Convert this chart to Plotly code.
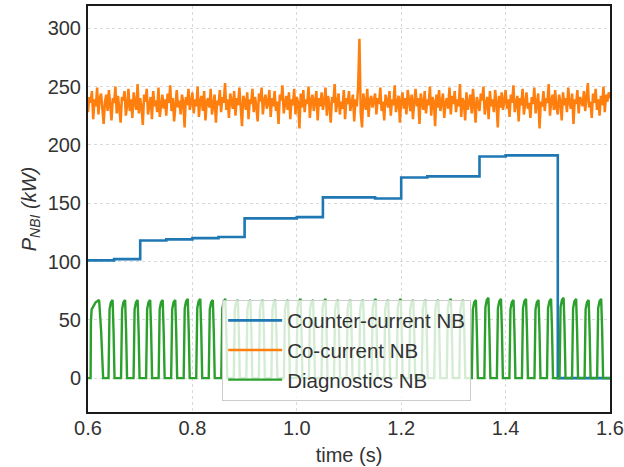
import plotly.graph_objects as go

# ---------------- data ----------------
# Counter-current NB (stepped power, kW)
blue_t = [0.600, 0.650, 0.700, 0.750, 0.800, 0.850, 0.900, 0.950, 1.000, 1.050,
          1.100, 1.150, 1.200, 1.250, 1.300, 1.350, 1.400, 1.450, 1.500, 1.600]
blue_v = [101, 102, 118, 119, 120, 121, 137, 137, 138, 155,
          155, 154, 172, 173, 173, 190, 191, 191, 0, 0]

# Co-current NB (noisy, sampled every 2.5 ms from 0.6 s)
orange_t0 = 0.6
orange_dt = 0.0025
orange_v = [
    228, 241, 236, 246, 222, 239, 233, 249, 226, 240, 244, 231, 218, 237, 243, 229, 247, 234, 221, 240,
    236, 250, 227, 242, 233, 219, 241, 238, 246, 225, 234, 248, 229, 239, 223, 245, 236, 230, 252, 227,
    240, 232, 217, 243, 237, 248, 226, 235, 241, 222, 246, 233, 238, 228, 249, 224, 237, 243, 231, 239,
    225, 244, 236, 251, 229, 240, 220, 235, 247, 232, 238, 226, 243, 237, 215, 241, 234, 248, 230, 236,
    245, 227, 239, 233, 250, 224, 238, 242, 229, 246, 221, 237, 240, 232, 248, 226, 235, 243, 219, 238,
    234, 247, 228, 241, 236, 253, 230, 239, 223, 244, 237, 231, 246, 225, 240, 234, 249, 227, 216, 242,
    238, 230, 245, 222, 239, 235, 248, 228, 241, 233, 220, 244, 237, 249, 226, 238, 243, 231, 236, 247,
    224, 240, 233, 246, 229, 237, 218, 243, 238, 251, 227, 235, 242, 230, 245, 222, 239, 234, 248, 226,
    241, 236, 214, 244, 232, 247, 228, 239, 235, 250, 223, 238, 243, 229, 236, 246, 221, 240, 233, 245,
    230, 237, 249, 225, 242, 234, 219, 241, 236, 252, 228, 239, 244, 226, 237, 231, 247, 222, 240, 235,
    246, 229, 238, 243, 220, 239, 233, 250, 291, 227, 215, 244, 236, 230, 248, 224, 238, 242, 232, 237,
    244, 226, 240, 235, 249, 229, 237, 221, 243, 238, 232, 246, 225, 239, 234, 251, 228, 236, 242, 219,
    238, 245, 231, 240, 226, 247, 235, 229, 243, 222, 237, 248, 233, 240, 218, 244, 236, 230, 246, 227,
    239, 234, 250, 225, 241, 237, 216, 243, 232, 247, 229, 238, 244, 223, 236, 240, 231, 249, 226, 242,
    235, 246, 228, 239, 233, 252, 224, 240, 237, 221, 245, 230, 238, 243, 227, 248, 234, 219, 241, 236,
    229, 244, 238, 250, 226, 235, 241, 222, 246, 233, 239, 228, 247, 236, 215, 242, 232, 245, 230, 238,
    247, 231, 239, 224, 243, 236, 251, 228, 237, 242, 220, 240, 234, 248, 226, 239, 245, 231, 236, 223,
    241, 235, 249, 227, 238, 244, 214, 237, 233, 246, 229, 240, 236, 252, 225, 238, 243, 230, 247, 232,
    226, 243, 237, 221, 245, 234, 240, 228, 249, 236, 231, 244, 218, 239, 235, 247, 227, 241, 238, 233,
    246, 229, 240, 253, 232, 237, 223, 244, 236, 248, 230, 239, 225, 242, 234, 250, 228, 243, 237, 245,
    240,
]

# Diagnostics NB (pulsed): onset time, on-duration and peak of each pulse
green_on = [0.6050, 0.6393, 0.6633, 0.6873, 0.7113, 0.7353, 0.7593, 0.7833, 0.8073, 0.8313,
            0.8553, 0.8793, 0.9033, 0.9273, 0.9513, 0.9753, 0.9993, 1.0233, 1.0473, 1.0713,
            1.0953, 1.1193, 1.1433, 1.1673, 1.1913, 1.2153, 1.2393, 1.2633, 1.2873, 1.3113,
            1.3353, 1.3593, 1.3833, 1.4073, 1.4313, 1.4553, 1.4793, 1.5033, 1.5273, 1.5513,
            1.5753]
green_width = [0.0240] + [0.0115] * 40
green_peak = [67, 67, 67, 67, 67, 67, 67, 68, 68, 67,
              68, 67, 67, 67, 67, 67, 68, 67, 68, 67,
              67, 67, 68, 67, 68, 67, 67, 67, 68, 67,
              67, 69, 68, 67, 68, 67, 68, 69, 68, 67,
              68]
t_start, t_end = 0.6, 1.6

# ---------------- build traces ----------------
orange_t = [orange_t0 + orange_dt * i for i in range(len(orange_v))]

# pulse outline: (absolute offset s, fraction of width, fraction of peak)
PULSE = [(0.0, 0.0, 0.0), (0.0006, 0.0, 0.72), (0.0020, 0.0, 0.88),
         (0.0, 0.40, 0.97), (0.0, 0.68, 1.0), (0.0, 0.84, 0.6), (0.0, 1.0, 0.0)]
green_t, green_v = [t_start], [0]
for on, w, h in zip(green_on, green_width, green_peak):
    for a, fw, fh in PULSE:
        green_t.append(on + a + fw * w)
        green_v.append(h * fh)
green_t.append(t_end)
green_v.append(0)

BLUE, ORANGE, GREEN = "#1f77b4", "#ff7f0e", "#2ca02c"

fig = go.Figure()
fig.add_trace(go.Scatter(x=blue_t, y=blue_v, mode="lines", line_shape="hv",
                         line=dict(color=BLUE, width=2.6), name="Counter-current NB",
                         legendgroup="a"))
fig.add_trace(go.Scatter(x=orange_t, y=orange_v, mode="lines",
                         line=dict(color=ORANGE, width=2.5), name="Co-current NB",
                         legendgroup="b"))
fig.add_trace(go.Scatter(x=green_t, y=green_v, mode="lines",
                         line=dict(color=GREEN, width=2.4), name="Diagnostics NB",
                         legendgroup="c"))

FONT = "Liberation Sans, Arial, sans-serif"
axis_common = dict(showline=True, mirror=True, linecolor="#1a1a1a", linewidth=2,
                   showgrid=True, gridcolor="#d9d9d9", griddash="dot", gridwidth=1,
                   zeroline=False, ticks="", automargin=False,
                   tickfont=dict(family=FONT, size=20, color="#333"))

fig.update_layout(
    width=624, height=467,
    margin=dict(l=88, r=14, t=6, b=55),
    paper_bgcolor="white", plot_bgcolor="white",
    font=dict(family=FONT, color="#333"),
    xaxis=dict(range=[0.6, 1.6], tickvals=[0.6, 0.8, 1.0, 1.2, 1.4, 1.6],
               ticktext=["0.6", "0.8", "1.0", "1.2", "1.4", "1.6"],
               ticklabelstandoff=-3,
               title=dict(text="time (s)", font=dict(family=FONT, size=20, color="#333"),
                          standoff=10),
               **axis_common),
    yaxis=dict(range=[-29, 319], tickvals=[0, 50, 100, 150, 200, 250, 300],
               ticklabelstandoff=1,
               title=dict(text="<i>P</i><sub><i>NBI</i></sub><i> (kW)</i>",
                          font=dict(family=FONT, size=20, color="#333"), standoff=6),
               **axis_common),
    legend=dict(x=0.257, y=0.277, xanchor="left", yanchor="top",
                bgcolor="rgba(255,255,255,0.8)", bordercolor="#cccccc", borderwidth=1,
                font=dict(family=FONT, size=20.5, color="#333"),
                traceorder="grouped", tracegroupgap=0, itemwidth=54),
    showlegend=True,
)

fig.write_html("out.html")
